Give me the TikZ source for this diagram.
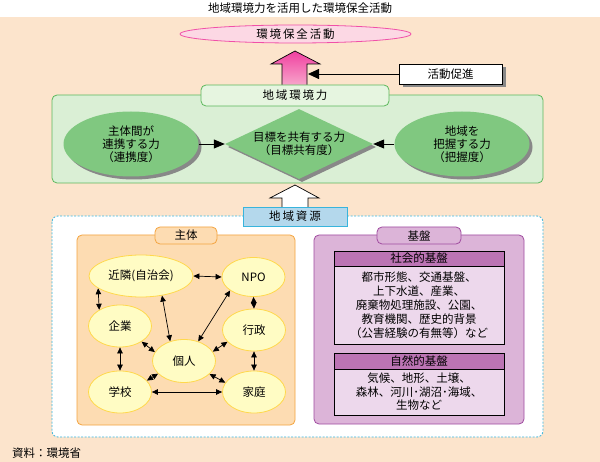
\documentclass[tikz,border=0pt]{standalone}
\usepackage{fontspec}
\setmainfont{Noto Sans CJK JP}
\newfontfamily\spaced[LetterSpace=16]{Noto Sans CJK JP}
\usetikzlibrary{shapes.geometric,arrows.meta,shadows}
\definecolor{bgbeige}{HTML}{FCE4CC}
\definecolor{pinkfill}{HTML}{FCD8E4}
\definecolor{pinkline}{HTML}{F050A8}
\definecolor{arrowtop}{HTML}{F040A0}
\definecolor{arrowbot}{HTML}{F8A8CC}
\definecolor{greenfill}{HTML}{DAEFD5}
\definecolor{greentab}{HTML}{E6F5E0}
\definecolor{greenline}{HTML}{5CB85C}
\definecolor{ellgreen}{HTML}{80C880}
\definecolor{shadowgray}{HTML}{888888}
\definecolor{bluefill}{HTML}{B4D8EC}
\definecolor{cyanline}{HTML}{38B4DC}
\definecolor{orangefill}{HTML}{FDDCB2}
\definecolor{orangeline}{HTML}{F4A440}
\definecolor{yellowfill}{HTML}{FFFCC4}
\definecolor{yellowline}{HTML}{FFD84C}
\definecolor{purplefill}{HTML}{DCB4D8}
\definecolor{purpleline}{HTML}{A04CA0}
\definecolor{headpurple}{HTML}{BC74B4}
\definecolor{bodypink}{HTML}{EDD8EC}
\tikzset{
  crispshadow/.style={general shadow={fill=shadowgray, shadow xshift=3pt, shadow yshift=-3pt}},
  gell/.style={ellipse, fill=ellgreen, minimum width=135pt, minimum height=65pt, inner sep=0pt, align=center, crispshadow},
  garrow/.style={line width=0.8pt, -{Triangle[length=11pt,width=9pt]}},
  tabbox/.style={rounded corners=5pt, inner sep=0pt, line width=0.8pt},
  yell/.style={ellipse, draw=yellowline, fill=yellowfill, line width=0.8pt, minimum width=63pt, minimum height=42pt, inner sep=0pt},
  dbl/.style={line width=0.7pt, {Triangle[length=6pt,width=5.5pt]}-{Triangle[length=6pt,width=5.5pt]}},
  headbox/.style={draw=black, fill=headpurple, line width=0.8pt, minimum width=170pt, inner sep=0pt},
  bodybox/.style={draw=black, fill=bodypink, line width=0.8pt, minimum width=170pt, inner sep=0pt, align=center},
}
\begin{document}
\begin{tikzpicture}[x=1pt,y=-1pt,font=\fontsize{11.5}{13}\selectfont]
\useasboundingbox (0,0) rectangle (600,462);
\fill[bgbeige] (0,17) rectangle (600,462);
\node (title) at (300,8) {地域環境力を活用した環境保全活動};

% goal ellipse
\node[ellipse, draw=pinkline, fill=pinkfill, line width=0.8pt, minimum width=231pt, minimum height=18pt, inner sep=0pt] (goal) at (295.5,34) {\spaced 環境保全活動};

% pink arrow
\shadedraw[top color=arrowtop, bottom color=arrowbot, draw=black, line width=0.7pt]
  (295,51) -- (320,64) -- (307,64) -- (307,86) -- (282,86) -- (282,64) -- (271,64) -- cycle;

% promotion box
\node[draw=black, fill=white, line width=0.8pt, minimum width=103pt, minimum height=20pt, inner sep=0pt,
  general shadow={fill=shadowgray, shadow xshift=4pt, shadow yshift=-3pt}] (promo) at (450.5,74) {活動促進};
\coordinate (promotip) at (308,74);
\draw[line width=0.8pt, -{Triangle[length=11pt,width=10pt]}] (promo.west) -- (promotip);

% green panel
\draw[greenline, fill=greenfill, line width=0.8pt, rounded corners=5pt] (52,95) rectangle (543,183);
\node[tabbox, draw=greenline, fill=greentab, minimum width=188pt, minimum height=21pt] (power) at (295,95.5) {\spaced 地域環境力};

\node[gell] (renkei) at (131,144) {主体間が\\連携する力\\（連携度）};
\node[gell] (haaku) at (462,144) {地域を\\把握する力\\（把握度）};
\node[diamond, fill=ellgreen, aspect=2.114, minimum width=148pt, minimum height=70pt, inner sep=0pt, align=center, crispshadow] (share) at (299,144) {目標を共有する力\\（目標共有度）};
\draw[garrow] (renkei.east) -- (share.west);
\draw[garrow] (haaku.west) -- (share.east);

% white arrow
\draw[black, fill=white, line width=0.7pt]
  (295,185) -- (319,198) -- (308,198) -- (308,209) -- (282,209) -- (282,198) -- (270,198) -- cycle;

% resources panel
\draw[cyanline, fill=white, line width=0.8pt, dash pattern=on 2pt off 1.5pt, rounded corners=6pt] (52,216) rectangle (543,437);
\node[draw=cyanline, fill=bluefill, line width=0.8pt, minimum width=104pt, minimum height=19pt, inner sep=0pt] (res) at (295,216.5) {\spaced 地域資源};

% actors panel
\draw[orangeline, fill=orangefill, line width=0.8pt, rounded corners=5pt] (77,235) rectangle (295,425);
\node[tabbox, draw=orangeline, fill=orangefill, minimum width=62pt, minimum height=17pt] (actors) at (186,235.5) {主体};

\node[yell, minimum width=104pt] (kinrin) at (141,276) {近隣(自治会)};
\node[yell, minimum height=39pt] (npo) at (253.5,277) {NPO};
\node[yell] (kigyo) at (120,326) {企業};
\node[yell] (gyosei) at (254,330) {行政};
\node[yell, minimum height=43pt] (kojin) at (184,361) {個人};
\node[yell] (gakko) at (120,392) {学校};
\node[yell] (katei) at (254,392) {家庭};

\draw[dbl] (kinrin.east) -- (npo.west);
\draw[dbl] (kinrin.196) -- (kigyo.142);
\draw[dbl] (kinrin.317) -- (kojin.125);
\draw[dbl] (npo.210) -- (kojin.54);
\draw[dbl] (npo.south) -- (gyosei.north);
\draw[dbl] (kigyo.324) -- (kojin.163);
\draw[dbl] (gyosei.204) -- (kojin.18);
\draw[dbl] (kigyo.south) -- (gakko.north);
\draw[dbl] (gyosei.south) -- (katei.north);
\draw[dbl] (kojin.206) -- (gakko.23);
\draw[dbl] (kojin.333) -- (katei.162);
\draw[dbl] (gakko.east) -- (katei.west);

% base panel
\draw[purpleline, fill=purplefill, line width=0.8pt, rounded corners=5pt] (314,235) rectangle (524,424);
\node[tabbox, draw=purpleline, fill=purplefill, minimum width=84pt, minimum height=17pt] (base) at (419,235.5) {基盤};

\node[headbox, minimum height=15pt] (sochead) at (419,258.5) {社会的基盤};
\node[bodybox, minimum height=78pt, font=\fontsize{11.5}{14}\selectfont] (socbody) at (419,305) {都市形態、交通基盤、\\上下水道、産業、\\廃棄物処理施設、公園、\\教育機関、歴史的背景\\（公害経験の有無等）など};
\node[headbox, minimum height=16pt] (nathead) at (419,361) {自然的基盤};
\node[bodybox, minimum height=46pt, font=\fontsize{11.5}{13.5}\selectfont] (natbody) at (419,392) {気候、地形、土壌、\\森林、河川･湖沼･海域、\\生物など};

% source
\node[anchor=west, inner sep=0pt] (src) at (12,453) {資料：環境省};
\end{tikzpicture}
\end{document}
